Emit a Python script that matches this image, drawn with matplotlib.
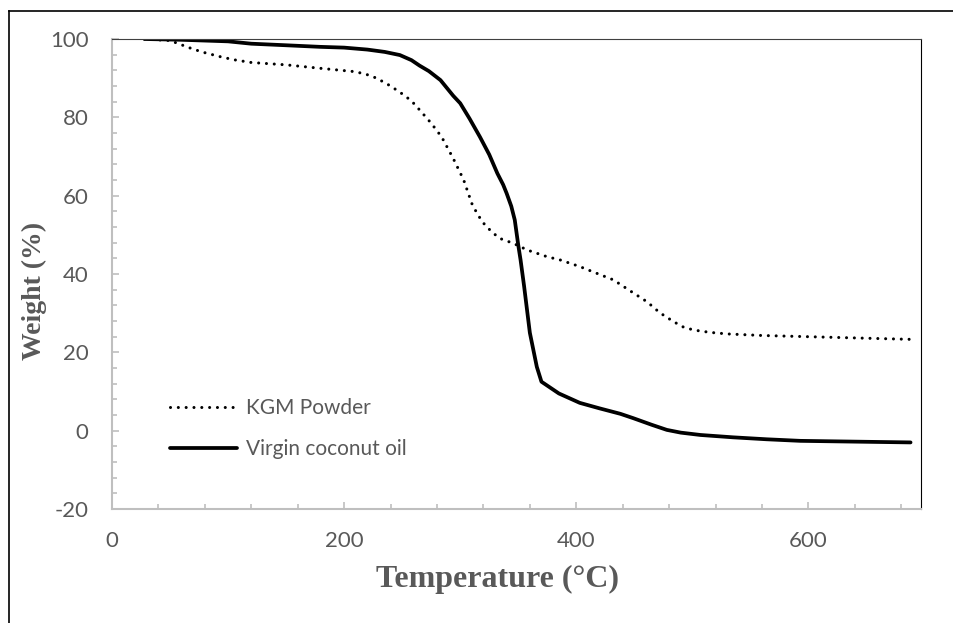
import matplotlib.pyplot as plt
from matplotlib.lines import Line2D
from matplotlib.ticker import MultipleLocator

plt.rcParams['axes.unicode_minus'] = False

# TGA curves
kgm_temp = [28, 50, 60, 70, 80, 93, 105, 120, 150, 180, 208, 218, 228, 240, 250, 258, 265,
            275, 284, 294, 303, 310, 315, 320, 327, 334, 346, 358, 375, 386, 403, 414,
            432, 449, 461, 472, 484, 492, 501, 515, 530, 560, 599, 650, 690]
kgm_weight = [100, 99.6, 98.5, 97.4, 96.5, 95.5, 94.7, 94.0, 93.4, 92.5, 91.7, 91.1, 90.0,
              88.0, 86.0, 84.2, 81.9, 78.5, 75.0, 69.5, 64.0, 58.0, 55.2, 53.0, 50.8, 49.1,
              47.8, 46.1, 44.4, 43.6, 41.9, 40.6, 38.5, 35.2, 32.9, 30.1, 27.8, 26.5, 25.7,
              25.1, 24.7, 24.3, 24.0, 23.6, 23.3]

vco_temp = [28, 60, 100, 120, 150, 179, 200, 220, 235, 248, 258, 265, 273, 283, 294, 300,
            308, 317, 325, 332, 337, 340, 344, 347, 350, 352, 355, 360, 366, 370, 385,
            403, 420, 438, 449, 465, 478, 490, 507, 535, 564, 593, 640, 688]
vco_weight = [100, 99.8, 99.4, 98.8, 98.4, 98.0, 97.8, 97.3, 96.7, 95.9, 94.6, 93.2, 91.8,
              89.5, 85.5, 83.6, 79.7, 75.0, 70.5, 65.7, 62.8, 60.6, 57.3, 53.8, 47.4, 43.6,
              37.0, 25.0, 16.3, 12.5, 9.5, 7.1, 5.7, 4.3, 3.2, 1.5, 0.2, -0.5, -1.1, -1.7,
              -2.2, -2.6, -2.8, -3.0]

labels = ['KGM Powder', 'Virgin coconut oil']

grey = '#595959'
light = '#BFBFBF'

fig = plt.figure(figsize=(9.54, 6.23), dpi=100)
ax = fig.add_axes([112/954, 1 - 509/623, (921 - 112)/954, (509 - 39)/623])

ax.plot(kgm_temp, kgm_weight, color='black', lw=2.2, linestyle=(0, (0.01, 2.55)),
        dash_capstyle='round', label=labels[0])
ax.plot(vco_temp, vco_weight, color='black', lw=2.7, solid_capstyle='round',
        solid_joinstyle='round', label=labels[1])

ax.set_xlim(0, 697)
ax.set_ylim(-20, 100)
ax.xaxis.set_major_locator(MultipleLocator(200))
ax.xaxis.set_minor_locator(MultipleLocator(40))
ax.yaxis.set_major_locator(MultipleLocator(20))
ax.yaxis.set_minor_locator(MultipleLocator(4))

ax.tick_params(which='both', direction='in', color=light, width=1.2,
               labelcolor=grey, labelsize=16, top=False, right=False)
ax.tick_params(which='major', length=5)
ax.tick_params(which='minor', length=3.6)
ax.tick_params(axis='x', pad=16)
ax.tick_params(axis='y', pad=17)
for lab in ax.get_xticklabels() + ax.get_yticklabels():
    lab.set_fontfamily('Lato')

ax.spines['left'].set_color(light)
ax.spines['bottom'].set_color(light)
ax.spines['left'].set_linewidth(1.5)
ax.spines['bottom'].set_linewidth(1.5)
ax.spines['top'].set_color('#404040')
ax.spines['right'].set_color('black')

ax.set_xlabel('Temperature (°C)', family='Liberation Serif', fontweight='bold',
              fontsize=23, color=grey, labelpad=10)
ax.xaxis.label.set_x(0.476)
ax.set_ylabel('Weight (%)', family='Liberation Serif', fontweight='bold',
              fontsize=20, color=grey)
ax.yaxis.set_label_coords(-0.080, 0.464)

ax.legend(loc='upper left', bbox_to_anchor=(0.0717, 0.236), frameon=False,
          prop={'family': 'Lato', 'size': 15}, labelcolor=grey,
          handlelength=3.2, handletextpad=0.45, labelspacing=1.0,
          borderpad=0, borderaxespad=0)

# outer frame (left and top edges only are visible)
fig.add_artist(Line2D([9.5/954, 9.5/954], [0, 1 - 11/623], transform=fig.transFigure,
                      color='black', lw=1.2))
fig.add_artist(Line2D([9.5/954, 1], [1 - 11/623, 1 - 11/623], transform=fig.transFigure,
                      color='black', lw=1.2))

fig.savefig('out.png', dpi=100)
